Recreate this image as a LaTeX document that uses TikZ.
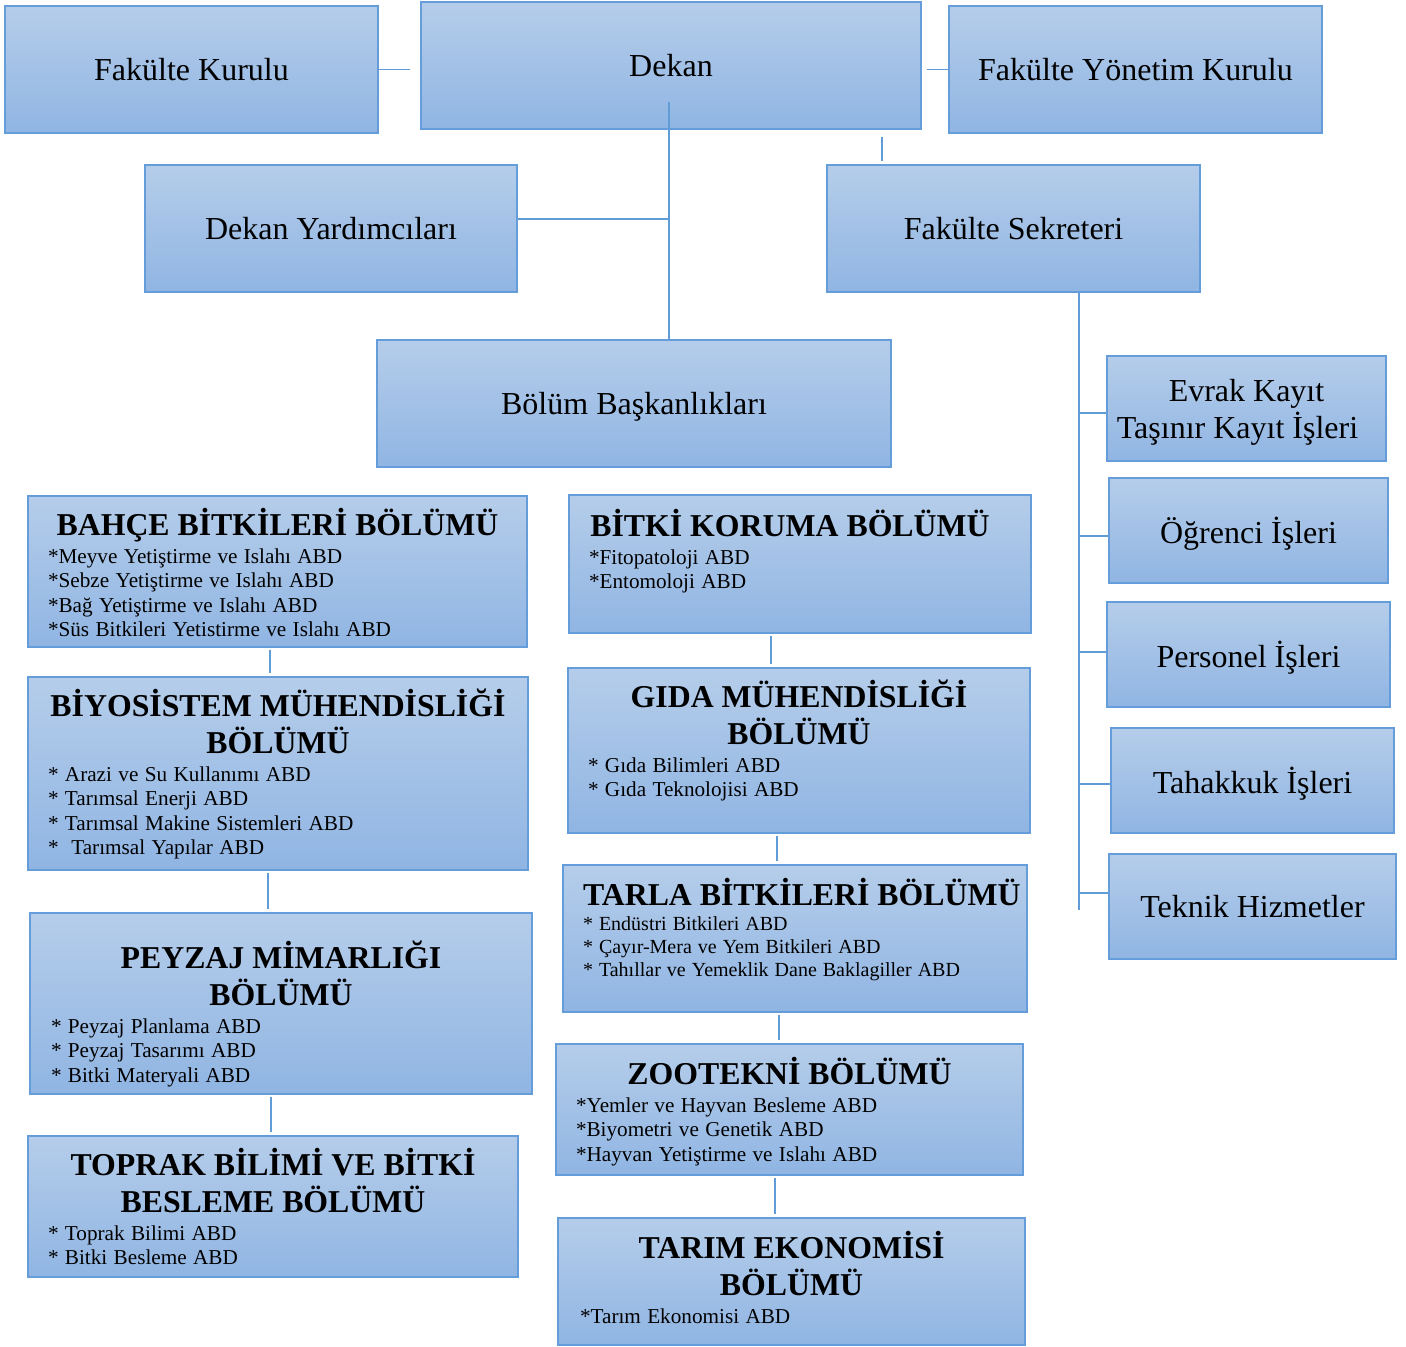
\documentclass[tikz,border=0pt]{standalone}
\usepackage{fontspec}
\setmainfont{Liberation Serif}
\usetikzlibrary{calc}
\setlength{\parindent}{0pt}

\definecolor{boxtop}{RGB}{181,205,234}
\definecolor{boxbot}{RGB}{144,181,227}
\definecolor{boxline}{RGB}{100,157,218}
\definecolor{connline}{RGB}{96,156,214}

\newcommand{\unitfont}{\fontsize{32}{37}\selectfont}
\newcommand{\headfont}{\bfseries\fontsize{31.8}{37}\selectfont\spaceskip=0.25em minus 0.02em\relax}
\newcommand{\abdfont}{\fontsize{21.2}{24.5}\selectfont\spaceskip=0.3em minus 0.02em\relax}
\newcommand{\hstrut}{\rule{0pt}{29pt}}

\tikzset{
    orgbox/.style={draw=boxline, line width=1.4pt, top color=boxtop, bottom color=boxbot, inner sep=0pt},
    unitbox/.style={orgbox, align=center, font=\unitfont, text depth=0pt},
    depttext/.style={anchor=north, inner sep=0pt, align=left},
    conn/.style={draw=connline, line width=1.5pt},
}

\begin{document}
\begin{tikzpicture}[x=1pt,y=-1pt]
    \useasboundingbox (0,0) rectangle (1406,1347);

    % yonetim
    \node[unitbox, minimum width=373pt, minimum height=127pt] (kurul) at (191.5,69.5) {Fakülte Kurulu};
    \node[unitbox, minimum width=500pt, minimum height=127pt] (dekan) at (671,65.5) {Dekan};
    \node[unitbox, minimum width=373pt, minimum height=127pt] (yonetim) at (1135.5,69.5) {Fakülte Yönetim Kurulu};
    \node[unitbox, minimum width=372pt, minimum height=127pt] (yard) at (331,228.5) {Dekan Yardımcıları};
    \node[unitbox, minimum width=373pt, minimum height=127pt] (sekreter) at (1013.5,228.5) {Fakülte Sekreteri};
    \node[unitbox, minimum width=514pt, minimum height=127pt] (bolum) at (634,403.5) {Bölüm Başkanlıkları};

    % sekreterlik birimleri
    \node[unitbox, minimum width=279pt, minimum height=105pt] (evrak) at (1246.5,408.5) {Evrak Kayıt\\Taşınır Kayıt İşleri\hspace*{18pt}};
    \node[unitbox, minimum width=279pt, minimum height=105pt] (ogrenci) at (1248.5,530.5) {Öğrenci İşleri};
    \node[unitbox, minimum width=283pt, minimum height=105pt] (personel) at (1248.5,654.5) {Personel İşleri};
    \node[unitbox, minimum width=283pt, minimum height=105pt] (tahakkuk) at (1252.5,780.5) {Tahakkuk İşleri};
    \node[unitbox, minimum width=287pt, minimum height=105pt] (teknik) at (1252.5,906.5) {Teknik Hizmetler};

    % bolumler
    \node[orgbox, minimum width=499pt, minimum height=151pt] (bahce) at (277.5,571.5) {};
    \node[depttext, text width=459pt] (bahce-t) at ([yshift=-11pt]bahce.north)
        {{\centering\headfont\hstrut BAHÇE BİTKİLERİ BÖLÜMÜ\par}\vspace{3pt}
         {\abdfont *Meyve Yetiştirme ve Islahı ABD\par *Sebze Yetiştirme ve Islahı ABD\par *Bağ Yetiştirme ve Islahı ABD\par *Süs Bitkileri Yetistirme ve Islahı ABD\par}};

    \node[orgbox, minimum width=500pt, minimum height=193pt] (biyo) at (278,773.5) {};
    \node[depttext, text width=460pt] (biyo-t) at ([yshift=-11pt]biyo.north)
        {{\centering\headfont\hstrut BİYOSİSTEM MÜHENDİSLİĞİ\\BÖLÜMÜ\par}\vspace{3pt}
         {\abdfont * Arazi ve Su Kullanımı ABD\par * Tarımsal Enerji ABD\par * Tarımsal Makine Sistemleri ABD\par *\ \ Tarımsal Yapılar ABD\par}};

    \node[orgbox, minimum width=502pt, minimum height=181pt] (peyzaj) at (281,1003.5) {};
    \node[depttext, text width=460pt] (peyzaj-t) at ([yshift=-27pt]peyzaj.north)
        {{\centering\headfont\hstrut PEYZAJ MİMARLIĞI\\BÖLÜMÜ\par}\vspace{3pt}
         {\abdfont * Peyzaj Planlama ABD\par * Peyzaj Tasarımı ABD\par * Bitki Materyali ABD\par}};

    \node[orgbox, minimum width=490pt, minimum height=141pt] (toprak) at (273,1206.5) {};
    \node[depttext, text width=450pt] (toprak-t) at ([yshift=-11pt]toprak.north)
        {{\centering\headfont\hstrut TOPRAK BİLİMİ VE BİTKİ\\BESLEME BÖLÜMÜ\par}\vspace{3pt}
         {\abdfont * Toprak Bilimi ABD\par * Bitki Besleme ABD\par}};

    \node[orgbox, minimum width=462pt, minimum height=138pt] (koruma) at (800,564) {};
    \node[depttext, text width=422pt] (koruma-t) at ([yshift=-13pt]koruma.north)
        {{\centering\headfont\hstrut\mbox{BİTKİ KORUMA BÖLÜMÜ}\hspace*{20pt}\par}\vspace{3pt}
         {\abdfont *Fitopatoloji ABD\par *Entomoloji ABD\par}};

    \node[orgbox, minimum width=462pt, minimum height=165pt] (gida) at (799,750.5) {};
    \node[depttext, text width=422pt] (gida-t) at ([yshift=-11pt]gida.north)
        {{\centering\headfont\hstrut GIDA MÜHENDİSLİĞİ\\BÖLÜMÜ\par}\vspace{3pt}
         {\abdfont * Gıda Bilimleri ABD\par * Gıda Teknolojisi ABD\par}};

    \node[orgbox, minimum width=464pt, minimum height=147pt] (tarla) at (795,938.5) {};
    \node[depttext, text width=424pt] (tarla-t) at ([yshift=-12pt]tarla.north)
        {{\centering\headfont\hstrut\mbox{TARLA BİTKİLERİ BÖLÜMÜ}\par}\vspace{2pt}
         {\abdfont\fontsize{20}{23}\selectfont\spaceskip=0.3em minus 0.02em * Endüstri Bitkileri ABD\par * Çayır-Mera ve Yem Bitkileri ABD\par * Tahıllar ve Yemeklik Dane Baklagiller ABD\par}};

    \node[orgbox, minimum width=467pt, minimum height=131pt] (zoo) at (789.5,1109.5) {};
    \node[depttext, text width=427pt] (zoo-t) at ([yshift=-12pt]zoo.north)
        {{\centering\headfont\hstrut ZOOTEKNİ BÖLÜMÜ\par}\vspace{3pt}
         {\abdfont *Yemler ve Hayvan Besleme ABD\par *Biyometri ve Genetik ABD\par *Hayvan Yetiştirme ve Islahı ABD\par}};

    \node[orgbox, minimum width=467pt, minimum height=127pt] (tarim) at (791.5,1281.5) {};
    \node[depttext, text width=427pt] (tarim-t) at ([yshift=-12pt]tarim.north)
        {{\centering\headfont\hstrut TARIM EKONOMİSİ\\BÖLÜMÜ\par}\vspace{3pt}
         {\abdfont\hspace*{2pt}*Tarım Ekonomisi ABD\par}};

    % baglantilar
    \coordinate (dspine) at (669,219);
    \coordinate (sspine) at (1079,910);
    \draw[conn, shorten >=10pt] (kurul.east) -- (kurul.east -| dekan.west);
    \draw[conn, shorten <=5pt] (dekan.east |- yonetim.west) -- (yonetim.west);
    \draw[conn] (yard.east |- dspine) -- (dspine);
    \draw[conn, shorten <=36pt] (dspine |- dekan.center) -- (dspine |- bolum.north);
    \draw[conn, shorten <=7pt, shorten >=3pt] (882,0 |- dekan.south) -- (882,0 |- sekreter.north);
    \draw[conn] (sspine |- sekreter.south) -- (sspine);
    \foreach \n/\d in {evrak/4.5, ogrenci/5.5, personel/-2.5, tahakkuk/3.5, teknik/-13.5}
        \draw[conn] ($(sspine |- \n.west)+(0,\d)$) -- ($(\n.west)+(0,\d)$);
    \foreach \a/\b/\x in {bahce/biyo/270, biyo/peyzaj/268, peyzaj/toprak/271, koruma/gida/771, gida/tarla/777, tarla/zoo/779, zoo/tarim/775}
        \draw[conn, shorten <=2pt, shorten >=3pt] (\x,0 |- \a.south) -- (\x,0 |- \b.north);
\end{tikzpicture}
\end{document}
